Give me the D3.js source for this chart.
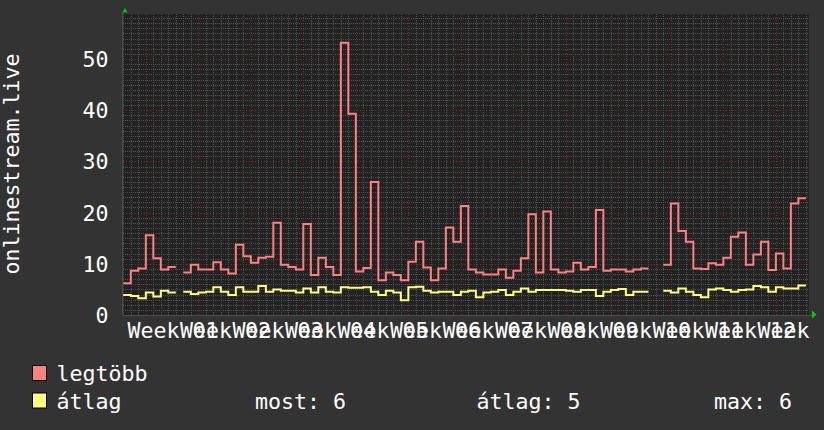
<!DOCTYPE html>
<html><head><meta charset="utf-8">
<script src="https://cdn.jsdelivr.net/npm/d3@7"></script>
<style>html,body{margin:0;padding:0;background:#333333;} svg{display:block}</style>
</head><body>
<svg id="c" width="824" height="430"></svg>
<script>
// ---- data ----
const firstDay = "2023-12-29";
const legtobb = [6.2, 8.65, 9.1, 15.6, 11.1, 8.9, 9.4, null, 8.3, 9.8,
  8.9, 8.9, 10.3, 8.9, 8.1, 13.7, 11.5, 10.2, 11.2, 11.4,
  18.0, 9.8, 9.4, 8.9, 17.8, 7.8, 11.2, 9.4, 7.8, 53.2,
  39.3, 8.5, 9.2, 26.0, 6.8, 8.3, 7.8, 6.8, 10.4, 14.3,
  9.3, 6.8, 9.1, 17.1, 14.3, 21.3, 8.9, 8.3, 7.9, 7.9,
  8.9, 7.3, 8.65, 11.1, 19.7, 8.3, 20.2, 8.9, 8.3, 8.5,
  10.2, 8.9, 9.4, 20.5, 8.65, 8.9, 8.9, 8.5, 8.9, 9.1,
  null, null, 9.8, 21.8, 16.4, 14.3, 9.1, 9.0, 10.1, 9.8,
  11.2, 15.3, 16.1, 9.8, 11.8, 14.3, 8.8, 12.0, 9.1, 21.8, 22.8];
const atlag = [3.9, 3.7, 3.25, 4.4, 3.6, 4.75, 4.4, null, 4.55, 4.1,
  4.4, 4.55, 5.4, 4.55, 3.9, 5.4, 4.55, 4.55, 5.65, 4.55,
  5.0, 4.75, 4.75, 4.4, 5.2, 4.4, 5.4, 4.55, 4.4, 5.4,
  5.3, 5.3, 5.4, 4.55, 3.9, 4.75, 4.4, 2.9, 5.4, 5.5,
  4.75, 4.4, 4.55, 4.55, 3.9, 4.55, 4.75, 3.45, 4.4, 4.55,
  4.9, 3.9, 4.55, 5.2, 4.55, 4.9, 4.9, 4.9, 4.9, 4.75,
  4.55, 4.9, 4.9, 3.7, 4.55, 4.9, 5.1, 3.9, 4.55, 4.55,
  null, null, 4.75, 4.4, 5.2, 4.55, 3.9, 3.45, 5.0, 5.2,
  4.9, 4.55, 4.9, 5.0, 5.65, 5.4, 4.55, 5.4, 5.2, 5.2, 5.75];
const yTicks = [0, 10, 20, 30, 40, 50];
const seriesNames = ["legtöbb", "átlag"];
const statLabels = ["most: 6", "átlag: 5", "max: 6"];
const yTitle = "onlinestream.live";

// ---- layout ----
const W = 824, H = 430;
const m = {l: 123, r: 809, t: 14, b: 315};
const FONT = "'DejaVu Sans Mono', monospace";
const FS = 21.6;
const colors = ["#ff8080", "#ffff80"];

const svg = d3.select("#c");
svg.append("rect").attr("width", W).attr("height", H).attr("fill", "#333333");

const t0 = new Date(Date.UTC(2023, 11, 28, 23));
const t1 = d3.utcHour.offset(t0, 2195);
const x = d3.scaleUtc().domain([t0, t1]).range([m.l, m.r]);
const y = d3.scaleLinear().domain([0, 58.8]).range([m.b, m.t]);

svg.append("rect").attr("x", m.l).attr("y", m.t).attr("width", m.r - m.l).attr("height", m.b - m.t).attr("fill", "#222222");

const grid = svg.append("g");
const days = d3.utcDay.range(t0, t1);
const mondays = d3.utcMonday.range(t0, t1);
const isMon = d => d.getUTCDay() === 1;
// minor vertical
grid.selectAll(".mv").data(days.filter(d => !isMon(d))).join("line")
  .attr("x1", d => Math.round(x(d)) + 0.5).attr("x2", d => Math.round(x(d)) + 0.5)
  .attr("y1", m.t).attr("y2", m.b)
  .attr("stroke", "#505050").attr("stroke-dasharray", "1,1");
// minor horizontal
const minorY = d3.range(1, 59).filter(v => v % 10 !== 0);
grid.selectAll(".mh").data(minorY).join("line")
  .attr("x1", m.l).attr("x2", m.r)
  .attr("y1", d => Math.round(y(d)) + 0.5).attr("y2", d => Math.round(y(d)) + 0.5)
  .attr("stroke", "#505050").attr("stroke-dasharray", "1,1");
// major
grid.selectAll(".Mv").data(mondays).join("line")
  .attr("x1", d => Math.round(x(d)) + 0.5).attr("x2", d => Math.round(x(d)) + 0.5)
  .attr("y1", m.t).attr("y2", m.b)
  .attr("stroke", "#6e3434").attr("stroke-dasharray", "1,2");
grid.selectAll(".Mh").data(yTicks.filter(v => v > 0)).join("line")
  .attr("x1", m.l).attr("x2", m.r)
  .attr("y1", d => Math.round(y(d)) + 0.5).attr("y2", d => Math.round(y(d)) + 0.5)
  .attr("stroke", "#6e3434").attr("stroke-dasharray", "1,2");

// axes lines
svg.append("line").attr("x1", m.l).attr("x2", m.r + 3).attr("y1", m.b + 0.5).attr("y2", m.b + 0.5).attr("stroke", "#4a4a4a");
svg.append("line").attr("x1", m.l - 0.5).attr("x2", m.l - 0.5).attr("y1", m.t - 1).attr("y2", m.b).attr("stroke", "#4a4a4a");
svg.append("path").attr("d", `M${m.r + 3},${m.b - 4.5}L${m.r + 7.5},${m.b - 0.5}L${m.r + 3},${m.b + 3.5}Z`).attr("fill", "#00cc00");
svg.append("path").attr("d", `M${m.l - 0.5},${m.t - 1.5}L${m.l + 2},${m.t - 6}L${m.l + 4.5},${m.t - 1.5}Z`).attr("fill", "#00cc00");

// series
const dayList = d3.range(legtobb.length).map(i => d3.utcDay.offset(new Date(firstDay + "T00:00:00Z"), i));
function stepPts(vals) {
  const pts = [];
  vals.forEach((v, i) => {
    if (v == null) { pts.push({t: dayList[i], v: null}); return; }
    pts.push({t: dayList[i], v});
    pts.push({t: d3.utcDay.offset(dayList[i], 1), v});
  });
  return pts;
}
const line = d3.line().defined(d => d.v != null).x(d => x(d.t)).y(d => y(d.v));
[legtobb, atlag].forEach((vals, k) => {
  svg.append("path").attr("d", line(stepPts(vals))).attr("fill", "none")
    .attr("stroke", colors[k]).attr("stroke-width", 2).attr("stroke-linejoin", "miter");
});

// y labels
svg.selectAll(".yl").data(yTicks).join("text")
  .attr("x", 108.5).attr("y", d => y(d) + 8)
  .attr("text-anchor", "end").attr("font-family", FONT).attr("font-size", FS)
  .attr("fill", "#ffffff").text(d => d);

// x labels
const fmt = d3.utcFormat("%V");
svg.selectAll(".xl").data(mondays).join("text")
  .attr("x", d => x(d3.utcHour.offset(d, 84)) + 1)
  .attr("y", 338).attr("text-anchor", "middle")
  .attr("font-family", FONT).attr("font-size", FS).attr("fill", "#ffffff")
  .text(d => "Week " + fmt(d));

// title
svg.append("text").attr("transform", "translate(19,164) rotate(-90)")
  .attr("text-anchor", "middle").attr("font-family", FONT).attr("font-size", FS)
  .attr("fill", "#ffffff").text(yTitle);

// legend
const legRows = [381, 408.5];
seriesNames.forEach((n, k) => {
  svg.append("rect").attr("x", 32.5).attr("y", legRows[k] - 15.5).attr("width", 14).attr("height", 15)
    .attr("fill", colors[k]).attr("stroke", "#000000").attr("stroke-width", 1);
  svg.append("text").attr("x", 56.5).attr("y", legRows[k]).attr("font-family", FONT).attr("font-size", FS)
    .attr("fill", "#ffffff").text(n);
});
const statX = [255, 476.5, 714];
statLabels.forEach((s, i) => {
  svg.append("text").attr("x", statX[i]).attr("y", legRows[1]).attr("font-family", FONT).attr("font-size", FS)
    .attr("fill", "#ffffff").text(s);
});
</script>
</body></html>
